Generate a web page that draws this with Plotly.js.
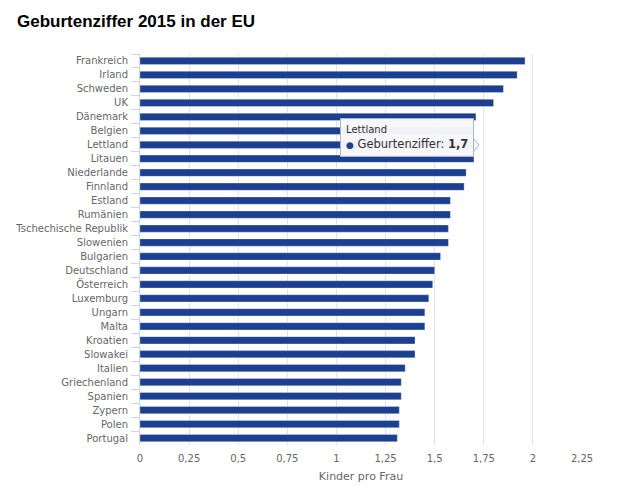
<!DOCTYPE html>
<html>
<head>
<meta charset="utf-8">
<script src="https://cdn.plot.ly/plotly-3.0.1.min.js"></script>
<style>html,body{margin:0;padding:0;background:#fff;}#chart{width:640px;height:486px;}</style>
</head>
<body>
<div id="chart"></div>
<script>
const countries = ["Frankreich","Irland","Schweden","UK","Dänemark","Belgien","Lettland","Litauen","Niederlande","Finnland","Estland","Rumänien","Tschechische Republik","Slowenien","Bulgarien","Deutschland","Österreich","Luxemburg","Ungarn","Malta","Kroatien","Slowakei","Italien","Griechenland","Spanien","Zypern","Polen","Portugal"];
const fertility = [1.96,1.92,1.85,1.80,1.71,1.70,1.70,1.70,1.66,1.65,1.58,1.58,1.57,1.57,1.53,1.50,1.49,1.47,1.45,1.45,1.40,1.40,1.35,1.33,1.33,1.32,1.32,1.31];
const xTicks = [0,0.25,0.5,0.75,1,1.25,1.5,1.75,2,2.25];
const seriesName = "Geburtenziffer";
const tooltipCountry = "Lettland";

const barColor = "#1d3f91";
const font = "DejaVu Sans, Verdana, sans-serif";
const tipIdx = countries.indexOf(tooltipCountry);
const tipVal = fertility[tipIdx];
const tipValText = tipVal.toFixed(1).replace(".", ",");

const trace = {
  type: "bar",
  orientation: "h",
  y: countries,
  x: fertility,
  name: seriesName,
  marker: {color: barColor, line: {color: "rgba(255,255,255,0.6)", width: 0.5}},
  hoverinfo: "skip"
};

const layout = {
  width: 640, height: 486,
  margin: {l: 140, r: 58, t: 54, b: 41},
  paper_bgcolor: "#fff", plot_bgcolor: "#fff",
  separators: ",.",
  showlegend: false,
  bargap: 0.48,
  font: {family: font, color: "#666666", size: 10},
  title: {
    text: "<b>Geburtenziffer 2015 in der EU</b>",
    font: {family: "Liberation Sans, Arial, sans-serif", size: 17, color: "#000000"},
    x: 17/640, xref: "container", xanchor: "left",
    y: 1 - 21/486, yref: "container", yanchor: "middle"
  },
  xaxis: {
    range: [0, 2.25],
    tickvals: xTicks,
    ticks: "",
    showgrid: true, gridcolor: "#e3e3e3", gridwidth: 1,
    zeroline: false, showline: false,
    ticklabelstandoff: 6,
    tickfont: {size: 10, color: "#666666"},
    title: {text: "Kinder pro Frau", font: {size: 11, color: "#666666"}, standoff: 9},
    fixedrange: true
  },
  yaxis: {
    type: "category",
    autorange: "reversed",
    showgrid: false,
    showline: true, linecolor: "#ccd6eb", linewidth: 1,
    ticks: "outside", tickson: "boundaries", ticklen: 8, tickcolor: "#ccd6eb", tickwidth: 1,
    ticklabelstandoff: 9,
    tickfont: {size: 10, color: "#666666"},
    fixedrange: true
  },
  annotations: [{
    xref: "x", yref: "paper",
    x: tipVal, y: 1 - (137 - 54) / 391,
    xanchor: "right", yanchor: "middle",
    showarrow: false,
    align: "left",
    text: "<span style='font-size:10px'>" + tooltipCountry + "</span><br><span style='color:" + barColor + ";font-size:9px'>●</span> " + seriesName + ": <b>" + tipValText + "</b>",
    font: {family: font, size: 11.5, color: "#333333"},
    bgcolor: "rgba(248,248,250,0.97)",
    bordercolor: "#aab4cc", borderwidth: 1, borderpad: 5
  }],
  shapes: [{
    type: "path", xref: "paper", yref: "paper",
    path: "M " + ((474-140)/442) + "," + (1-(139-54)/391) + " L " + ((479-140)/442) + "," + (1-(145-54)/391) + " L " + ((474-140)/442) + "," + (1-(151-54)/391),
    line: {color: "#aab4cc", width: 1},
    fillcolor: "rgba(248,248,250,0.97)",
    layer: "above"
  }]
};

Plotly.newPlot("chart", [trace], layout, {displayModeBar: false, staticPlot: true});
</script>
</body>
</html>
